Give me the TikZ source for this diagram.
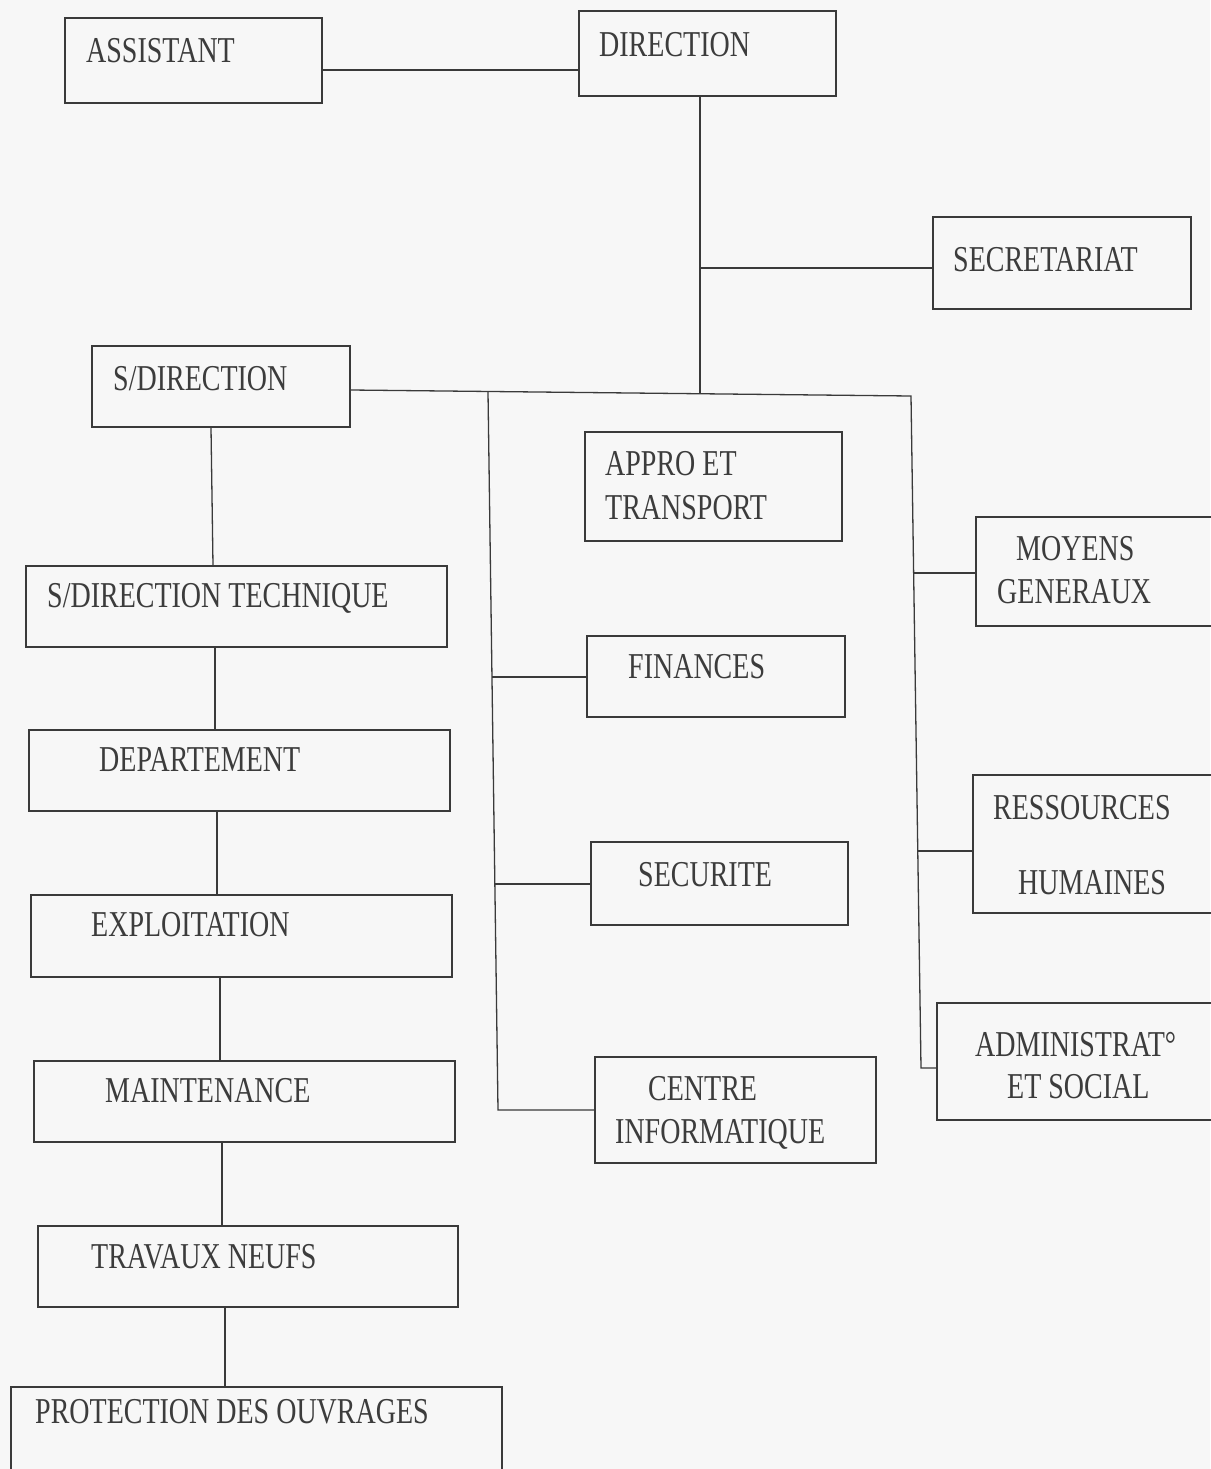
\documentclass[tikz,border=0pt]{standalone}
\usepackage{fontspec}
\setmainfont{Liberation Serif}
\usetikzlibrary{fit}
\definecolor{bgc}{HTML}{F7F7F7}
\definecolor{linec}{HTML}{3A3A3A}
\definecolor{txtc}{HTML}{3C3C3C}
\newcommand\tx[1]{\scalebox{1}[1.3]{#1}}
\begin{document}
\begin{tikzpicture}[x=1pt,y=-1pt,
  box/.style={draw=linec, line width=1.3pt, inner sep=0pt, rectangle},
  lbl/.style={anchor=base west, inner sep=0pt, text=txtc, font=\fontsize{28}{30}\selectfont},
  wire/.style={draw=linec, line width=1.3pt}]
\fill[bgc] (0,0) rectangle (1210,1469);
\useasboundingbox (0,0) rectangle (1210,1469);

% boxes
\node[box, fit={(65,18) (322,103)}] (assistant) {};
\node[box, fit={(579,11) (836,96)}] (direction) {};
\node[box, fit={(933,217) (1191,309)}] (secretariat) {};
\node[box, fit={(92,346) (350,427)}] (sdir) {};
\node[box, fit={(585,432) (842,541)}] (appro) {};
\node[box, fit={(587,636) (845,717)}] (finances) {};
\node[box, fit={(591,842) (848,925)}] (securite) {};
\node[box, fit={(595,1057) (876,1163)}] (centre) {};
\node[box, fit={(976,517) (1220,626)}] (moyens) {};
\node[box, fit={(973,775) (1220,913)}] (rh) {};
\node[box, fit={(937,1003) (1220,1120)}] (admin) {};
\node[box, fit={(26,566) (447,647)}] (sdt) {};
\node[box, fit={(29,730) (450,811)}] (dep) {};
\node[box, fit={(31,895) (452,977)}] (expl) {};
\node[box, fit={(34,1061) (455,1142)}] (maint) {};
\node[box, fit={(38,1226) (458,1307)}] (trav) {};
\node[box, fit={(11,1387) (502,1480)}] (prot) {};

% labels
\node[lbl] (assistantT) at (86,63) {\tx{ASSISTANT}};
\node[lbl] (directionT) at (599,57) {\tx{DIRECTION}};
\node[lbl] (secretariatT) at (953,271) {\tx{SECRETARIAT}};
\node[lbl] (sdirT) at (113,390) {\tx{S/DIRECTION}};
\node[lbl] (approT1) at (605,475) {\tx{APPRO ET}};
\node[lbl] (approT2) at (605,519) {\tx{TRANSPORT}};
\node[lbl] (financesT) at (628,678) {\tx{FINANCES}};
\node[lbl] (securiteT) at (638,886) {\tx{SECURITE}};
\node[lbl] (centreT1) at (648,1100) {\tx{CENTRE}};
\node[lbl] (centreT2) at (615,1143) {\tx{INFORMATIQUE}};
\node[lbl] (moyensT1) at (1016,560) {\tx{MOYENS}};
\node[lbl] (moyensT2) at (997,603) {\tx{GENERAUX}};
\node[lbl] (rhT1) at (993,819) {\tx{RESSOURCES}};
\node[lbl] (rhT2) at (1018,894) {\tx{HUMAINES}};
\node[lbl] (adminT1) at (975,1056) {\tx{ADMINISTRAT°}};
\node[lbl] (adminT2) at (1007,1098) {\tx{ET SOCIAL}};
\node[lbl] (sdtT) at (47,607) {\tx{S/DIRECTION TECHNIQUE}};
\node[lbl] (depT) at (99,771) {\tx{DEPARTEMENT}};
\node[lbl] (explT) at (91,936) {\tx{EXPLOITATION}};
\node[lbl] (maintT) at (105,1102) {\tx{MAINTENANCE}};
\node[lbl] (travT) at (91,1268) {\tx{TRAVAUX NEUFS}};
\node[lbl] (protT) at (35,1423) {\tx{PROTECTION DES OUVRAGES}};

% bus coordinates
\coordinate (j1) at (700,393);
\coordinate (j2) at (700,268);
\coordinate (lb1) at (488,392);
\coordinate (lb2) at (498,1110);
\coordinate (lbf) at (492,677);
\coordinate (lbs) at (495,884);
\coordinate (rb1) at (911,396);
\coordinate (rb2) at (921,1068);
\coordinate (rbm) at (913.6,573);
\coordinate (rbr) at (917.8,851);

% connectors
\draw[wire] (assistant.east |- 0,70) -- (direction.west |- 0,70);
\draw[wire] (direction.south -| 700,0) -- (j1);
\draw[wire] (j2) -- (secretariat.west |- 0,268);
\draw[wire] (sdir.east |- 0,390) -- (rb1) -- (rb2) -- (admin.west |- 0,1068);
\draw[wire] (lb1) -- (lb2) -- (centre.west |- 0,1110);
\draw[wire] (lbf) -- (finances.west |- 0,677);
\draw[wire] (lbs) -- (securite.west |- 0,884);
\draw[wire] (rbm) -- (moyens.west |- 0,573);
\draw[wire] (rbr) -- (rh.west |- 0,851);

\draw[wire] (sdir.south -| 211,0) -- (sdt.north -| 213,0);
\draw[wire] (sdt.south -| 215,0) -- (dep.north -| 215,0);
\draw[wire] (dep.south -| 217,0) -- (expl.north -| 217,0);
\draw[wire] (expl.south -| 220,0) -- (maint.north -| 220,0);
\draw[wire] (maint.south -| 222,0) -- (trav.north -| 222,0);
\draw[wire] (trav.south -| 225,0) -- (prot.north -| 225,0);
\end{tikzpicture}
\end{document}
